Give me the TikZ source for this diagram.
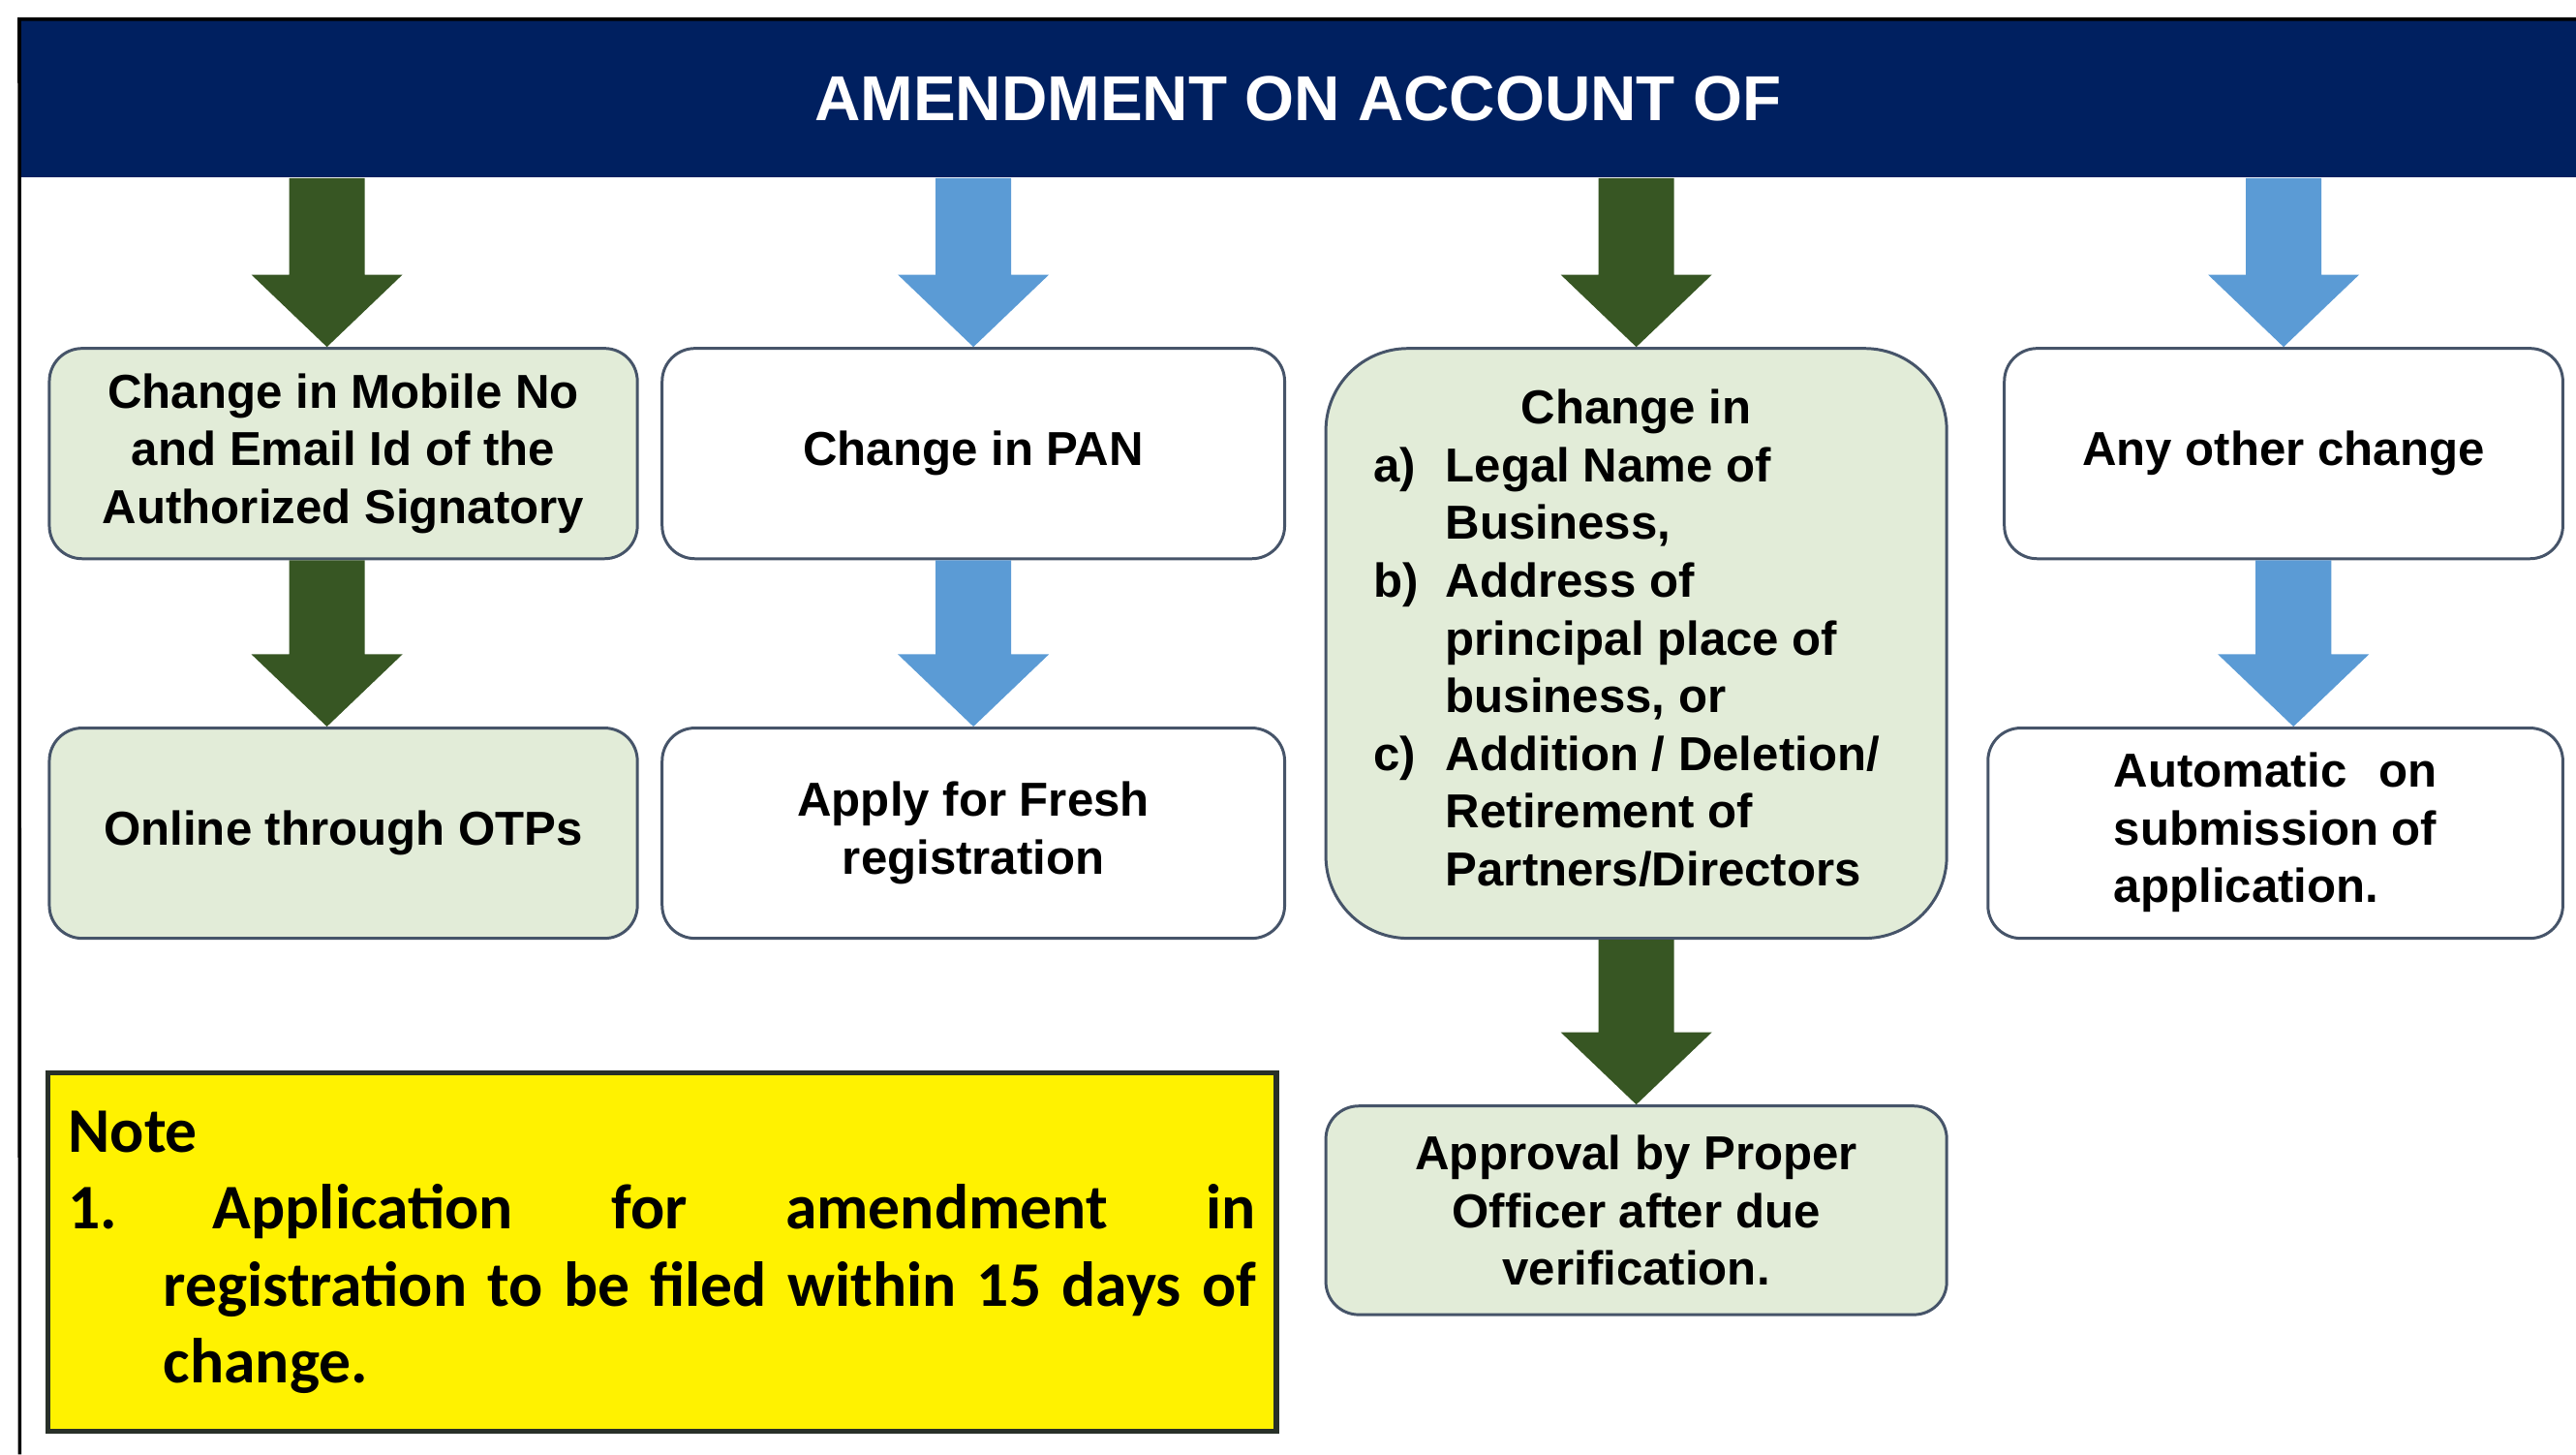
\documentclass[tikz,border=0pt]{standalone}
\usepackage{fontspec}
\setmainfont{Liberation Sans}
\newfontfamily\notefont{Carlito}
\usetikzlibrary{calc}
\definecolor{navy}{HTML}{002060}
\definecolor{dgreen}{HTML}{375623}
\definecolor{lblue}{HTML}{5B9BD5}
\definecolor{lgreen}{RGB}{226,236,216}
\definecolor{bordc}{RGB}{70,84,105}
\definecolor{notebord}{RGB}{40,48,40}

\newcommand\blockarrow[3]{%
 \fill[#1] let \p1=(#2), \p2=(#3) in
 (\x1-0.46cm,\y1) -- (\x1+0.46cm,\y1) -- (\x1+0.46cm,\y2+0.88cm) --
 (\x1+0.92cm,\y2+0.88cm) -- (\x1,\y2) -- (\x1-0.92cm,\y2+0.88cm) --
 (\x1-0.46cm,\y2+0.88cm) -- cycle;}

\begin{document}
\begin{tikzpicture}[x=0.02cm,y=-0.02cm,
  box/.style={draw=bordc, line width=1pt, rounded corners=0.4cm, align=center,
    font={\bfseries\fontsize{16.5}{20}\selectfont}, inner sep=2pt},
  greenbox/.style={box, fill=lgreen},
  whitebox/.style={box, fill=white},
  smallbox/.style={minimum height=2.56cm},
  hdrbox/.style={fill=navy, text=white, minimum width=31.12cm, minimum height=1.92cm,
    inner sep=0pt, font={\bfseries\fontsize{22}{26}\selectfont}},
  notebox/.style={draw=notebord, line width=1.8pt, fill=yellow, minimum width=14.96cm,
    minimum height=4.36cm, text width=14.46cm, inner xsep=0.25cm, align=left,
    font={\notefont\bfseries\fontsize{22}{26.7}\selectfont}},
  frame/.style={draw=black, line width=1.2pt}
]
\useasboundingbox (0,0) rectangle (1568,885);

% header
\node[hdrbox] (hdr) at (790,60) {AMENDMENT ON ACCOUNT OF};
\coordinate (bl) at (12,885);
\draw[frame] (bl) -- (hdr.north west) -- (hdr.north east);

% column 1
\node[greenbox, smallbox, minimum width=7.16cm] (a1) at (209,276)
  {Change in Mobile No\\and Email Id of the\\Authorized Signatory};
\node[greenbox, smallbox, minimum width=7.16cm] (a2) at (209,507)
  {Online through OTPs};

% column 2
\node[whitebox, smallbox, minimum width=7.58cm] (b1) at (592.5,276) {Change in PAN};
\node[whitebox, smallbox, minimum width=7.58cm] (b2) at (592.5,507)
  {Apply for Fresh\\registration};

% column 3
\node[greenbox, rounded corners=1cm, minimum width=7.56cm, minimum height=7.18cm] (c1) at (996,391.5)
  {\begin{tabular}{@{}p{0.88cm}@{}l@{\hspace{0.24cm}}}
   \multicolumn{2}{@{}c@{}}{Change in}\\
   a) & Legal Name of\\
      & Business,\\
   b) & Address of\\
      & principal place of\\
      & business, or\\
   c) & Addition / Deletion/\\
      & Retirement of\\
      & Partners/Directors
   \end{tabular}};
\node[greenbox, minimum width=7.56cm, minimum height=2.54cm] (c2) at (996,736.5)
  {Approval by Proper\\Officer after due\\verification.};

% column 4
\node[whitebox, smallbox, minimum width=6.8cm] (d1) at (1390,276) {Any other change};
\node[whitebox, smallbox, minimum width=7.0cm] (d2) at (1385,507)
  {\begin{tabular}{@{}l@{}}Automatic\hfill on\\submission of\\application.\end{tabular}};

% note
\node[notebox] (note) at (403,762)
  {Note\\
   \makebox[1.76cm][l]{1.}\makebox[12.7cm][l]{Application\hfill for\hfill amendment\hfill in}\\
   \hspace*{1.16cm}\makebox[13.3cm][l]{registration\hfill to\hfill be\hfill filed\hfill within\hfill 15\hfill days\hfill of}\\
   \hspace*{1.16cm}change.};

% block arrows
\blockarrow{dgreen}{$(hdr.south -| a1.north)+(-10,0)$}{a1.north}
\blockarrow{dgreen}{$(a1.south)+(-10,0)$}{a2.north}
\blockarrow{lblue}{hdr.south -| b1.north}{b1.north}
\blockarrow{lblue}{b1.south}{b2.north}
\blockarrow{dgreen}{hdr.south -| c1.north}{c1.north}
\blockarrow{dgreen}{c1.south}{c2.north}
\blockarrow{lblue}{hdr.south -| d1.north}{d1.north}
\blockarrow{lblue}{$(d1.south)+(6,0)$}{d2.north}
\end{tikzpicture}
\end{document}
